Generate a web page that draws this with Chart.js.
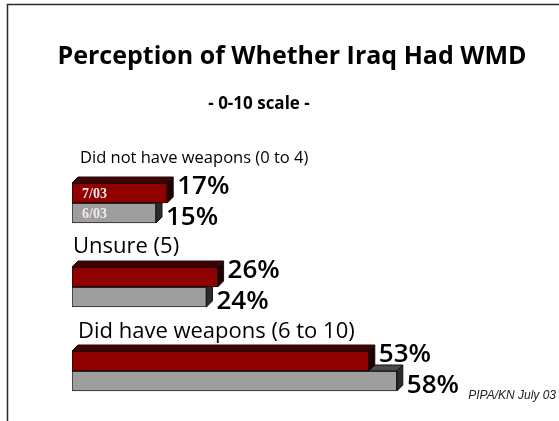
<!DOCTYPE html>
<html lang="en">
<head>
<meta charset="UTF-8">
<title>Perception of Whether Iraq Had WMD</title>
<script src="https://cdn.jsdelivr.net/npm/chart.js"></script>
<style>
  html, body { margin: 0; padding: 0; background: #fff; }
  #wrap { width: 559px; height: 421px; position: relative; }
</style>
</head>
<body>
<div id="wrap"><canvas id="wmdChart" width="559" height="421"></canvas></div>
<script>
// data
const categories = ['Did not have weapons (0 to 4)', 'Unsure (5)', 'Did have weapons (6 to 10)'];
const seriesNames = ['7/03', '6/03'];
const july03 = [17, 26, 53];
const june03 = [15, 24, 58];

// label styling (per category)
const labelSizes = [16.5, 22, 22];
const labelX = [80, 73, 78];
const labelOffsets = [-45, -40, -39];
const DEPTH = 6;

function frontGradient(ctx, stops) {
  const chart = ctx.chart;
  const el = ctx.element;
  if (!el || !chart.chartArea) return stops[0][1];
  const top = el.y - el.height / 2;
  const bottom = el.y + el.height / 2;
  if (!isFinite(top) || !isFinite(bottom) || top === bottom) return stops[0][1];
  const g = chart.ctx.createLinearGradient(0, top, 0, bottom);
  stops.forEach(s => g.addColorStop(s[0], s[1]));
  return g;
}

const redStops = [[0, '#900000'], [0.35, '#780000'], [1, '#2c0000']];
const grayStops = [[0, '#9e9e9e'], [0.3, '#b6b6b6'], [1, '#4e4e4e']];
const faceColors = [
  { top: '#440000', side: '#220000' },
  { top: '#4a4a4a', side: '#2c2c2c' }
];

// draws the 3d top/right faces right after each dataset
const depthPlugin = {
  id: 'depth',
  afterDatasetDraw(chart, args) {
    const ctx = chart.ctx;
    const meta = chart.getDatasetMeta(args.index);
    const fc = faceColors[args.index];
    ctx.save();
    ctx.strokeStyle = '#111';
    ctx.lineWidth = 1;
    meta.data.forEach(bar => {
      const left = bar.base, right = bar.x;
      const top = bar.y - bar.height / 2, bottom = bar.y + bar.height / 2;
      ctx.fillStyle = fc.top;
      ctx.beginPath();
      ctx.moveTo(left, top);
      ctx.lineTo(left + DEPTH, top - DEPTH);
      ctx.lineTo(right + DEPTH, top - DEPTH);
      ctx.lineTo(right, top);
      ctx.closePath();
      ctx.fill();
      ctx.stroke();
      ctx.fillStyle = fc.side;
      ctx.beginPath();
      ctx.moveTo(right, top);
      ctx.lineTo(right + DEPTH, top - DEPTH);
      ctx.lineTo(right + DEPTH, bottom - DEPTH);
      ctx.lineTo(right, bottom);
      ctx.closePath();
      ctx.fill();
      ctx.stroke();
    });
    ctx.restore();
  }
};

// titles, category labels, value labels, frame
const textPlugin = {
  id: 'texts',
  afterDraw(chart) {
    const ctx = chart.ctx;
    const yScale = chart.scales.y;
    ctx.save();

    // frame
    ctx.strokeStyle = '#2a2a2a';
    ctx.lineWidth = 1.5;
    ctx.beginPath();
    ctx.moveTo(7.5, 421);
    ctx.lineTo(7.5, 4.5);
    ctx.lineTo(559, 4.5);
    ctx.stroke();

    ctx.fillStyle = '#000';
    ctx.textAlign = 'center';
    ctx.textBaseline = 'alphabetic';
    ctx.font = 'bold 25px "Open Sans", sans-serif';
    ctx.fillText('Perception of Whether Iraq Had WMD', 292, 64);
    ctx.font = 'bold 17px "Open Sans", sans-serif';
    ctx.fillText('- 0-10 scale -', 259, 109);

    // category labels above each group
    ctx.textAlign = 'left';
    ctx.textBaseline = 'middle';
    categories.forEach((c, i) => {
      ctx.font = labelSizes[i] + 'px "Open Sans", sans-serif';
      ctx.fillText(c, labelX[i], yScale.getPixelForValue(i) + labelOffsets[i]);
    });

    // value labels
    ctx.font = '600 26px "Open Sans", sans-serif';
    chart.data.datasets.forEach((ds, di) => {
      chart.getDatasetMeta(di).data.forEach((bar, i) => {
        const yOff = di === 0 ? -6 : 5;
        ctx.fillText(ds.data[i] + '%', bar.x + DEPTH + 4, bar.y + yOff);
      });
    });

    // series names inside the first group
    ctx.font = 'bold 14px "Liberation Serif", serif';
    ctx.fillStyle = '#f4eaea';
    chart.data.datasets.forEach((ds, di) => {
      const bar = chart.getDatasetMeta(di).data[0];
      ctx.fillText(ds.label, bar.base + 10, bar.y + 1);
    });

    // source note
    ctx.fillStyle = '#222';
    ctx.textAlign = 'right';
    ctx.font = 'italic 12px "Liberation Sans", sans-serif';
    ctx.fillText('PIPA/KN July 03', 556, 396);
    ctx.restore();
  }
};

new Chart(document.getElementById('wmdChart'), {
  type: 'bar',
  data: {
    labels: categories,
    datasets: [
      {
        label: seriesNames[0],
        data: july03,
        backgroundColor: ctx => frontGradient(ctx, redStops),
        borderColor: '#1a0000',
        borderWidth: 1,
        borderSkipped: false,
        barThickness: 20
      },
      {
        label: seriesNames[1],
        data: june03,
        backgroundColor: ctx => frontGradient(ctx, grayStops),
        borderColor: '#222',
        borderWidth: 1,
        borderSkipped: false,
        barThickness: 20
      }
    ]
  },
  options: {
    indexAxis: 'y',
    responsive: false,
    animation: false,
    layout: { padding: { left: 72, right: 39, top: 161, bottom: 8 } },
    scales: {
      x: { display: false, min: 0, max: 80 },
      y: { display: false }
    },
    plugins: {
      legend: { display: false },
      tooltip: { enabled: false }
    }
  },
  plugins: [depthPlugin, textPlugin]
});
</script>
</body>
</html>
